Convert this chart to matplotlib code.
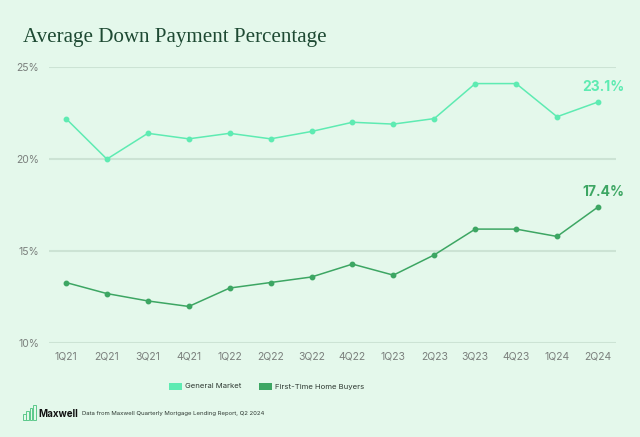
import matplotlib
matplotlib.use("Agg")
import matplotlib.pyplot as plt
from matplotlib.patches import Rectangle

quarters = ["1Q21", "2Q21", "3Q21", "4Q21", "1Q22", "2Q22", "3Q22", "4Q22",
            "1Q23", "2Q23", "3Q23", "4Q23", "1Q24", "2Q24"]
general_market = [22.2, 20.0, 21.4, 21.1, 21.4, 21.1, 21.5, 22.0,
                  21.9, 22.2, 24.1, 24.1, 22.3, 23.1]
first_time = [13.3, 12.7, 12.3, 12.0, 13.0, 13.3, 13.6, 14.3,
              13.7, 14.8, 16.2, 16.2, 15.8, 17.4]
y_ticks = [10, 15, 20, 25]
y_tick_labels = ["10%", "15%", "20%", "25%"]
series_names = ["General Market", "First-Time Home Buyers"]

BG = "#E4F8EB"
C_GEN = "#5EEBB2"
C_FT = "#3DA663"
GRID = "#CCE3D4"
TICK = "#7A7F7C"
TITLE = "#1E4A33"
SANS = ["Inter", "DejaVu Sans"]

W, H = 640, 437
fig = plt.figure(figsize=(6.4, 4.37), dpi=100, facecolor=BG)

ax_l, ax_r, ax_t, ax_b = 49, 616, 67, 343.3
ax = fig.add_axes([ax_l / W, 1 - ax_b / H, (ax_r - ax_l) / W, (ax_b - ax_t) / H])
ax.set_facecolor(BG)

x = list(range(len(quarters)))
ax.plot(x, general_market, color=C_GEN, lw=1.1, marker="o", ms=3.2, clip_on=False, zorder=3)
ax.plot(x, first_time, color=C_FT, lw=1.1, marker="o", ms=3.2, clip_on=False, zorder=3)

ax.set_xlim(-0.415, len(quarters) - 1 + 0.44)
ax.set_ylim(10, 25)
ax.set_yticks(y_ticks)
ax.set_yticklabels(y_tick_labels)
ax.set_xticks(x)
ax.set_xticklabels(quarters)
for s in ax.spines.values():
    s.set_visible(False)
ax.grid(axis="y", color=GRID, lw=1.5)
ax.set_axisbelow(True)
ax.tick_params(axis="both", length=0, colors=TICK, labelsize=7.5)
ax.tick_params(axis="y", pad=7)
ax.tick_params(axis="x", pad=6)
for lab in ax.get_xticklabels() + ax.get_yticklabels():
    lab.set_family(SANS)

# end labels
ax.annotate(f"{general_market[-1]:.1f}%", (x[-1], general_market[-1]), xytext=(4, 5.5),
            textcoords="offset points", ha="center", va="bottom", color=C_GEN,
            fontsize=10, fontweight="bold", family=SANS)
ax.annotate(f"{first_time[-1]:.1f}%", (x[-1], first_time[-1]), xytext=(4, 5.5),
            textcoords="offset points", ha="center", va="bottom", color=C_FT,
            fontsize=10, fontweight="bold", family=SANS)

# title
fig.text(23 / W, 1 - 42 / H, "Average Down Payment Percentage", family=["Liberation Serif", "DejaVu Serif"],
         fontsize=15.1, color=TITLE, ha="left", va="baseline")

# legend
def legend_item(x0, color, text):
    fig.patches.append(Rectangle((x0 / W, 1 - 390 / H), 13 / W, 7 / H, transform=fig.transFigure,
                                 facecolor=color, edgecolor="none"))
    fig.text((x0 + 16) / W, 1 - 386.5 / H, text, family=SANS, fontsize=5.6, color="#2F3A33",
             ha="left", va="center")

legend_item(169, C_GEN, series_names[0])
legend_item(259, C_FT, series_names[1])

# footer logo
logo_heights = [6, 9, 12, 15]
for i, hgt in enumerate(logo_heights):
    fig.patches.append(Rectangle(((23 + i * 3.4) / W, 1 - 420 / H), 2.6 / W, hgt / H,
                                 transform=fig.transFigure, facecolor="none",
                                 edgecolor="#5BC98A", lw=0.7))
fig.text(38 / W, 1 - 414 / H, "Maxwell", family=SANS, fontsize=7, fontweight="bold",
         color="#111111", ha="left", va="center")
fig.text(82 / W, 1 - 414 / H, "Data from Maxwell Quarterly Mortgage Lending Report, Q2 2024",
         family=SANS, fontsize=4.3, color="#2F3A33", ha="left", va="center")

fig.savefig("out.png", dpi=100, facecolor=BG)
